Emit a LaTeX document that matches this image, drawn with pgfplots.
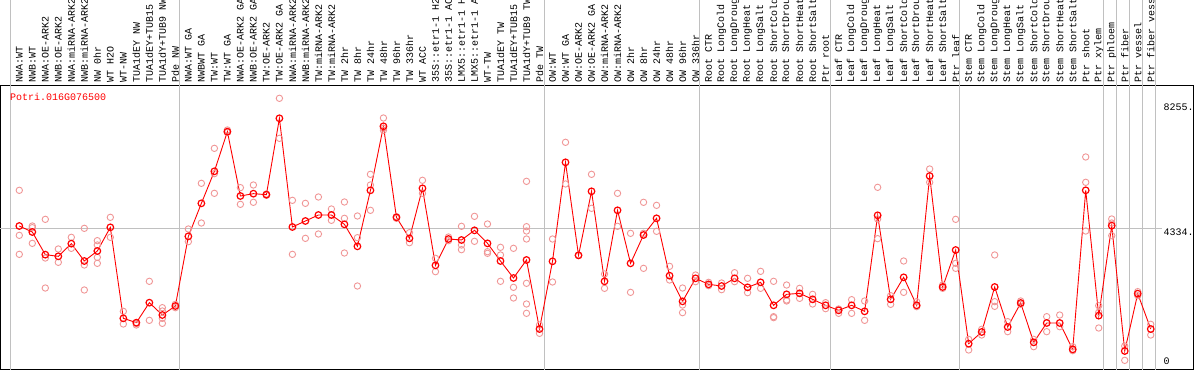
\documentclass[border=0pt]{standalone}
\usepackage{fontspec}
\setmonofont{Liberation Mono}
\usepackage{pgfplots}
\pgfplotsset{compat=1.18}
\definecolor{rep}{RGB}{240,150,150}
\definecolor{sepc}{RGB}{192,192,192}
\begin{document}
\begin{tikzpicture}
\useasboundingbox (0,0) rectangle (1194pt,370pt);
\clip (0,0) rectangle (1194pt,370pt);
\begin{axis}[
  scale only axis, width=1193pt, height=284pt,
  at={(0.5pt,0.5pt)}, anchor=south west,
  xmin=-0.4456, xmax=91.289, ymin=-94, ymax=8814,
  clip=false,
  axis line style={black, line width=1pt},
  major tick length=0pt, tick style={draw=none},
  xtick={1,...,88},
  xticklabels={NWA:WT,NWB:WT,NWA:OE-ARK2,NWB:OE-ARK2,NWA:miRNA-ARK2,NWB:miRNA-ARK2,NW 0hr,WT H2O,WT-NW,TUA1dEY NW,TUA1dEY+TUB15,TUA1dY+TUB9 NW,Pde NW,
    NWA:WT GA,NWBWT GA,TW:WT,TW:WT GA,NWA:OE-ARK2 GA,NWB:OE-ARK2 GA,TW:OE-ARK2,TW:OE-ARK2 GA,NWA:miRNA-ARK2,NWB:miRNA-ARK2,TW:miRNA-ARK2,TW:miRNA-ARK2,TW 2hr,TW 8hr,TW 24hr,TW 48hr,TW 96hr,TW 336hr,WT ACC,35S::etr1-1 H2O,35S::etr1-1 ACC,LMX5::etr1-1 H2O,LMX5::etr1-1 ACC,WT-TW,TUA1dEY TW,TUA1dEY+TUB15,TUA1dY+TUB9 TW,Pde TW,
    OW:WT,OW:WT GA,OW:OE-ARK2,OW:OE-ARK2 GA,OW:miRNA-ARK2,OW:miRNA-ARK2,OW 2hr,OW 8hr,OW 24hr,OW 48hr,OW 96hr,OW 336hr,
    Root CTR,Root LongCold,Root LongDrought,Root LongHeat,Root LongSalt,Root ShortCold,Root ShortDrought,Root ShortHeat,Root ShortSalt,Ptr root,
    Leaf CTR,Leaf LongCold,Leaf LongDrought,Leaf LongHeat,Leaf LongSalt,Leaf ShortCold,Leaf ShortDrought,Leaf ShortHeat,Leaf ShortSalt,Ptr leaf,
    Stem CTR,Stem LongCold,Stem LongDrought,Stem LongHeat,Stem LongSalt,Stem ShortCold,Stem ShortDrought,Stem ShortHeat,Stem ShortSalt,Ptr shoot,Ptr xylem,Ptr phloem,Ptr fiber,Ptr vessel,Ptr fiber vessel},
  xticklabel pos=upper,
  xticklabel shift=2.5pt,
  x tick label style={font=\ttfamily, rotate=90, anchor=west, inner sep=0pt},
  ytick={4334,8255}, yticklabels={4334.,8255.},
  yticklabel pos=upper,
  y tick label style={font=\ttfamily, anchor=north west, inner sep=0pt, xshift=-30.2pt, yshift=-0.7pt},
  extra y ticks={0}, extra y tick labels={0},
  extra y tick style={y tick label style={anchor=south west, yshift=2.2pt}},
]
% separators and grid line
\foreach \s in {0.354,13.354,41.37,53.34,63.34,73.33,84.354,85.354,86.354,87.354,88.354}{
  \edef\tmp{\noexpand\draw[sepc, line width=1pt] (axis cs:\s,-94) -- (axis cs:\s,11700);}\tmp
}
\draw[sepc, line width=1pt] (axis cs:-0.4456,4334) -- (axis cs:88.87,4334);
% replicates
\addplot[only marks, mark=o, mark size=3.2pt, rep, mark options={line width=0.9pt}] coordinates {
(1,5526)(1,4114)(1,3518)
(2,4407)(2,4355)(2,3863)
(3,4616)(3,3403)(3,2462)
(4,3686)(4,3268)
(5,4052)(5,3707)
(6,4334)(6,3184)(6,2400)
(7,3947)(7,3811)(7,3424)(7,3236)
(8,4679)(8,4052)
(9,1730)(9,1333)
(10,1344)(10,1302)
(11,2672)(11,1448)
(12,1845)(12,1741)(12,1511)(12,1354)
(13,1950)(13,1845)
(14,4313)(14,3916)
(15,5746)(15,4501)
(16,6843)(16,6049)(16,5432)
(17,7419)(17,7345)
(18,5610)(18,5087)
(19,5693)(19,5150)
(20,5411)(20,5369)
(21,8412)(21,7157)
(22,5212)(22,3518)
(23,5118)(23,4020)
(24,5317)(24,4156)
(25,4940)(25,4585)
(26,5160)(26,4648)(26,3560)
(27,4721)(27,4041)(27,2525)
(28,6028)(28,5693)(28,4899)
(29,7795)(29,7471)(29,7408)
(30,4700)(30,4648)
(31,4198)(31,3884)
(32,5840)(32,5432)
(33,3393)(33,2975)
(34,4062)(34,3947)
(35,4397)(35,3811)(35,3665)
(36,4710)(36,3926)
(37,4470)(37,3602)(37,3550)
(38,3738)(38,3498)(38,2672)
(39,3707)(39,2483)(39,2149)
(40,5808)(40,4386)(40,4250)(40,3999)(40,2609)(40,1961)(40,1668)
(41,1302)(41,1040)
(42,3999)(42,2651)
(43,7032)(43,5725)
(44,3480)(44,3495)
(45,6028)(45,4961)
(46,2902)(46,2452)
(47,5432)(47,4397)
(48,4177)(48,2326)
(49,5150)(49,4177)(49,3079)
(50,5055)(50,4240)
(51,3142)(51,2713)
(52,2462)(52,1929)(52,1689)
(53,2870)(53,2661)
(54,2640)(54,2536)
(55,2619)(55,2410)
(56,2943)(56,2661)
(57,2766)(57,2316)
(58,2985)(58,2452)
(59,2672)(59,1563)(59,1532)
(60,2556)(60,2086)(60,2055)
(61,2452)(61,2138)
(62,2264)(62,1961)
(63,2002)(63,1814)
(64,1804)(64,1668)
(65,2096)(65,1668)
(66,2055)(66,1448)
(67,5620)(67,4627)(67,4010)
(68,2222)(68,1950)
(69,3309)(69,2326)
(70,2034)(70,1877)
(71,6195)(71,5777)
(72,2556)(72,2452)
(73,4616)(73,3236)(73,3079)
(74,852)(74,518)
(75,1166)(75,988)
(76,3498)(76,2034)(76,1887)
(77,1406)(77,1093)
(78,2055)(78,1950)
(79,852)(79,622)
(80,1563)(80,1093)
(81,1615)(81,1249)
(82,622)(82,497)
(83,6572)(83,5777)(83,4250)
(84,1908)(84,1699)(84,1208)
(85,4627)(85,4501)(85,4104)
(86,643)(86,193)
(87,2348)(87,2222)
(88,1323)(88,988)
};
% means
\addplot[red, line width=0.9pt, mark=o, mark size=3.3pt, mark options={line width=1.2pt}] coordinates {
(1,4407)(2,4219)(3,3508)(4,3456)(5,3853)(6,3309)(7,3623)(8,4365)(9,1511)(10,1375)
(11,2002)(12,1615)(13,1898)(14,4083)(15,5118)(16,6122)(17,7366)(18,5348)(19,5421)(20,5390)
(21,7785)(22,4376)(23,4564)(24,4752)(25,4752)(26,4459)(27,3769)(28,5526)(29,7534)(30,4679)
(31,4020)(32,5589)(33,3173)(34,3999)(35,3968)(36,4271)(37,3863)(38,3309)(39,2776)(40,3341)
(41,1176)(42,3299)(43,6404)(44,3487)(45,5495)(46,2672)(47,4899)(48,3236)(49,4125)(50,4648)
(51,2849)(52,2044)(53,2766)(54,2577)(55,2525)(56,2766)(57,2483)(58,2640)(59,1919)(60,2264)
(61,2295)(62,2107)(63,1919)(64,1762)(65,1919)(66,1730)(67,4742)(68,2107)(69,2797)(70,1919)
(71,5976)(72,2494)(73,3654)(74,716)(75,1082)(76,2494)(77,1239)(78,1992)(79,758)(80,1365)
(81,1365)(82,538)(83,5526)(84,1595)(85,4418)(86,486)(87,2285)(88,1176)
};
\node[anchor=west, text=red, font=\ttfamily, inner sep=0pt] at (rel axis cs:0.00796,0.9595) {Potri.016G076500};
\end{axis}
\end{tikzpicture}
\end{document}
